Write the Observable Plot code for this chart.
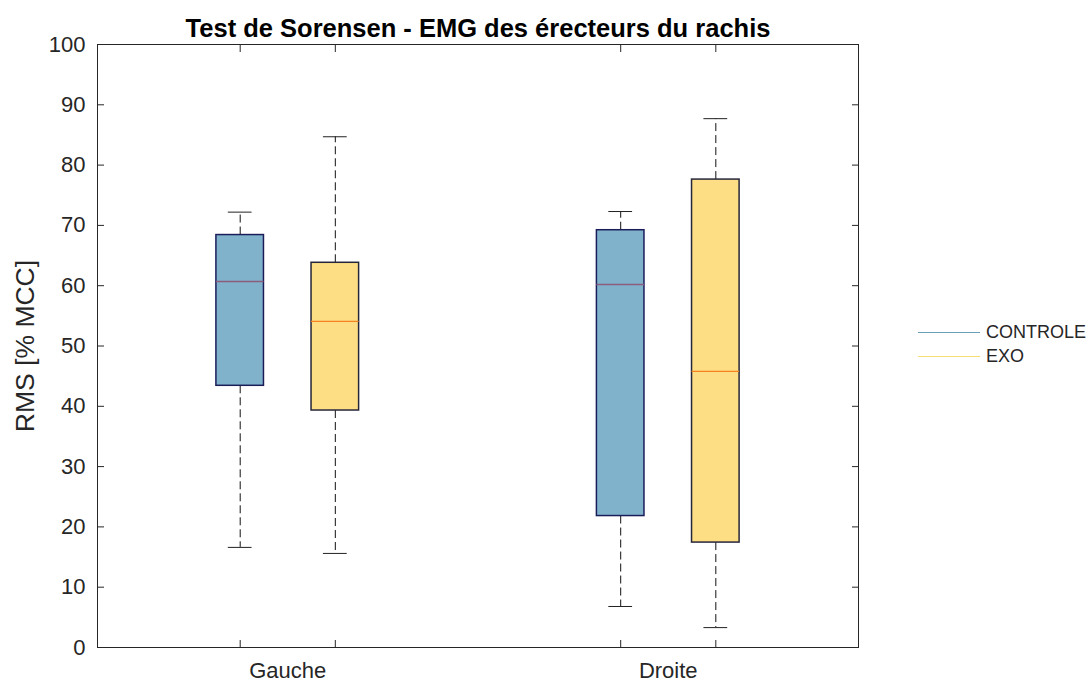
<!DOCTYPE html>
<html><head><meta charset="utf-8">
<script src="https://cdn.jsdelivr.net/npm/d3@7"></script>
<script src="https://cdn.jsdelivr.net/npm/@observablehq/plot@0.6"></script>
<style>
body{margin:0;background:#fff;}
#wrap{position:relative;width:1091px;height:682px;font-family:"Liberation Sans",Arial,sans-serif;color:#262626;}
#legend{position:absolute;left:918px;top:322px;font-size:18px;}
.item{position:absolute;left:0;display:flex;align-items:center;white-space:nowrap;}
.item span.l{display:inline-block;width:62px;height:0;border-top:1.5px solid;margin-right:6px;}
</style>
</head><body><div id="wrap"></div>
<script>
const title = "Test de Sorensen - EMG des érecteurs du rachis";
const yLabel = "RMS [% MCC]";
const sides = ["Gauche", "Droite"];
const groups = ["CONTROLE", "EXO"];
// box positions on the x axis (MATLAB boxplot positions)
const positions = [1, 2, 5, 6];
const sideCenters = [1.5, 5.5];
const lowerWhisker = [16.6, 15.6, 6.8, 3.3];
const q1 = [43.4, 39.3, 21.8, 17.4];
const median = [60.7, 54.1, 60.2, 45.8];
const q3 = [68.4, 63.8, 69.2, 77.6];
const upperWhisker = [72.2, 84.7, 72.3, 87.7];
const yTicks = d3.range(0, 101, 10);

const fills = {CONTROLE: "#80b2cc", EXO: "#fede84"};
const edges = {CONTROLE: "#1b1d5a", EXO: "#26263a"};
const medColors = {CONTROLE: "#8c5c7e", EXO: "#f58220"};
const legendColors = {CONTROLE: "#6a9fb8", EXO: "#f5dd72"};

const rows = positions.map((p, i) => ({
  side: sides[Math.floor(i / 2)], group: groups[i % 2], pos: p,
  lo: lowerWhisker[i], q1: q1[i], med: median[i], q3: q3[i], hi: upperWhisker[i]
}));

const boxMarks = groups.flatMap(g => {
  const data = rows.filter(d => d.group === g);
  return [
    Plot.rect(data, {x1: d => d.pos - 0.25, x2: d => d.pos + 0.25, y1: "q1", y2: "q3", fill: fills[g], stroke: edges[g], strokeWidth: 1.5}),
    Plot.ruleY(data, {x1: d => d.pos - 0.25, x2: d => d.pos + 0.25, y: "med", stroke: medColors[g], strokeWidth: 1.3})
  ];
});

const chart = Plot.plot({
  width: 1091, height: 682,
  marginLeft: 97, marginRight: 233, marginTop: 44, marginBottom: 35,
  x: {domain: [-0.5, 7.5]},
  y: {domain: [0, 100]},
  style: {fontFamily: "Liberation Sans, Arial, sans-serif", color: "#262626", background: "white", overflow: "visible"},
  marks: [
    Plot.ruleX(rows, {x: "pos", y1: "q3", y2: "hi", stroke: "#111", strokeDasharray: "8,4"}),
    Plot.ruleX(rows, {x: "pos", y1: "q1", y2: "lo", stroke: "#111", strokeDasharray: "8,4"}),
    Plot.ruleY(rows, {x1: d => d.pos - 0.125, x2: d => d.pos + 0.125, y: "hi", stroke: "#222"}),
    Plot.ruleY(rows, {x1: d => d.pos - 0.125, x2: d => d.pos + 0.125, y: "lo", stroke: "#222"}),
    ...boxMarks,
    Plot.frame({stroke: "#262626"}),
    Plot.axisY(yTicks, {anchor: "left", tickSize: 0, tickPadding: 12, fontSize: 22, label: null}),
    Plot.axisY(yTicks, {anchor: "left", tickSize: -7, tickFormat: () => "", label: null}),
    Plot.axisY(yTicks, {anchor: "right", tickSize: -7, tickFormat: () => "", label: null}),
    Plot.axisX(positions, {anchor: "bottom", tickSize: -7, tickFormat: () => "", label: null}),
    Plot.axisX(positions, {anchor: "top", tickSize: -7, tickFormat: () => "", label: null}),
    Plot.axisX(sideCenters, {anchor: "bottom", tickSize: 0, tickPadding: 15, fontSize: 22, tickFormat: d => sides[sideCenters.indexOf(d)], label: null}),
    Plot.text([title], {frameAnchor: "top", lineAnchor: "middle", textAnchor: "middle", dy: -16, fontSize: 25.5, fontWeight: "bold", fill: "black"}),
    Plot.text([yLabel], {frameAnchor: "left", lineAnchor: "middle", textAnchor: "middle", rotate: -90, dx: -72, fontSize: 26.5, fill: "#262626"})
  ]
});
const wrap = document.getElementById("wrap");
wrap.appendChild(chart);
const legend = document.createElement("div");
legend.id = "legend";
groups.forEach((g, i) => {
  const it = document.createElement("div");
  it.className = "item";
  it.style.top = (i * 24) + "px";
  const l = document.createElement("span");
  l.className = "l";
  l.style.borderTopColor = legendColors[g];
  const t = document.createElement("span");
  t.textContent = g;
  it.appendChild(l); it.appendChild(t);
  legend.appendChild(it);
});
wrap.appendChild(legend);
</script>
</body></html>
